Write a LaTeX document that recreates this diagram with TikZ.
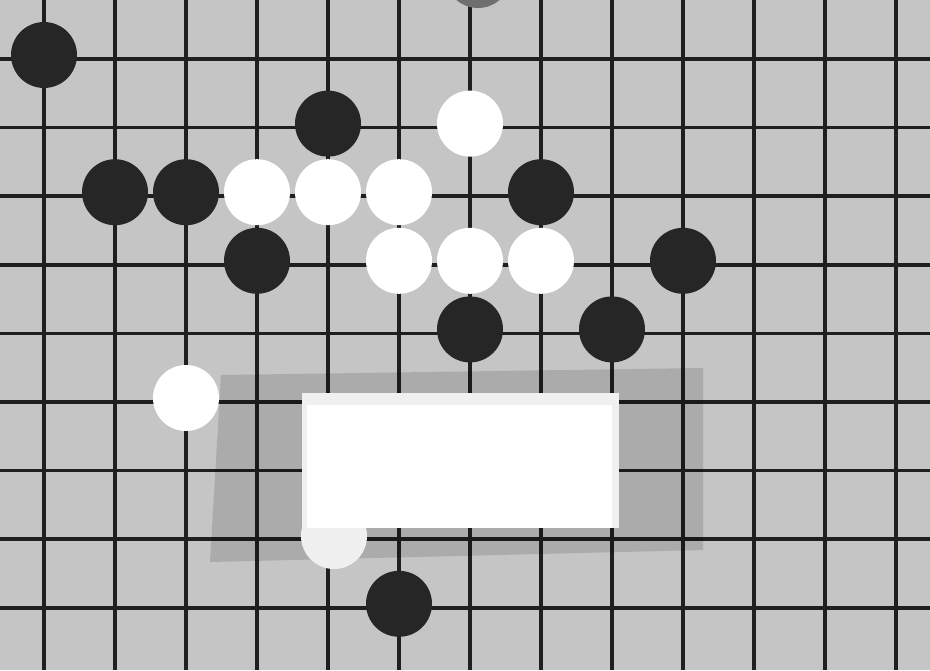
\documentclass[tikz,border=0pt]{standalone}
\usepackage{tikz}
\definecolor{board}{HTML}{C5C5C5}
\definecolor{gridline}{HTML}{1F1F1F}
\definecolor{blackstone}{HTML}{262626}
\definecolor{greystone}{HTML}{6F6F6F}

\begin{document}
\begin{tikzpicture}[x=0.2mm, y=-0.2mm]
  \useasboundingbox (0,0) rectangle (930,670);
  \clip (0,0) rectangle (930,670);
  \fill[board] (0,0) rectangle (930,670);
  % board lines
  \foreach \i in {0,...,12} \draw[gridline, line width=0.7mm] ({44+71*\i},0) -- ({44+71*\i},670);
  \foreach \j in {0,...,8} \draw[gridline, line width=0.7mm] (0,{59+68.6*\j}) -- (930,{59+68.6*\j});
  % shadow of the card
  \fill[black, opacity=0.13] (221,375) -- (703,368) -- (703,550) -- (210,562) -- cycle;
  % stones
  \foreach \i/\j in {0/0, 4/1, 1/2, 2/2, 7/2, 3/3, 9/3, 6/4, 8/4, 5/8} \fill[blackstone] ({44+71*\i},{55+68.6*\j}) circle (33);
  \foreach \i/\j in {6/1, 3/2, 4/2, 5/2, 5/3, 6/3, 7/3, 2/5} \fill[white] ({44+71*\i},{55+68.6*\j}) circle (33);
  \fill[gray!12] (334,536) circle (33);
  \fill[greystone] (478,-25) circle (33);
  % card
  \fill[gray!12] (302,393) rectangle (619,528);
  \fill[white] (307,405) rectangle (612,528);
\end{tikzpicture}
\end{document}
